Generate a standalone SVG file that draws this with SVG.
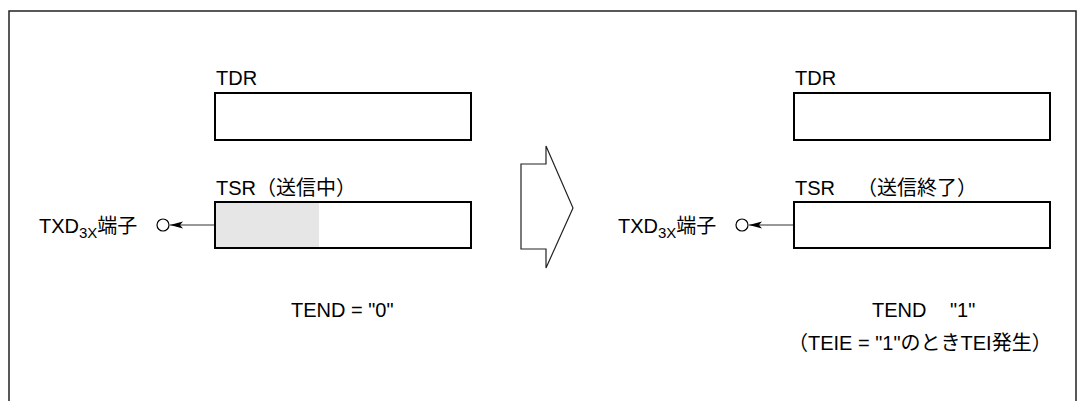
<svg xmlns="http://www.w3.org/2000/svg" width="1080" height="401" viewBox="0 0 1080 401">
<style>
text{font-family:"Liberation Sans","Noto Sans CJK JP",sans-serif;font-size:20px;fill:#000}
.sub{font-size:15px}
.reg{fill:none;stroke:#000;stroke-width:2}
.frame{fill:none;stroke:#222;stroke-width:1.5}
.conn{stroke:#333;stroke-width:1.2;fill:none}
.pin{fill:#fff;stroke:#000;stroke-width:1.2}
</style>
<defs>
<marker id="ah" markerWidth="14" markerHeight="8" refX="13" refY="4" orient="auto" markerUnits="userSpaceOnUse">
<path d="M0,0.5 L13,4 L0,7.5 L3,4 Z" fill="#000"/>
</marker>
</defs>
<rect class="frame" x="9" y="11" width="1067" height="420"/>

<g id="left-tdr">
<text x="216" y="85">TDR</text>
<rect class="reg" x="215" y="93" width="256" height="47"/>
</g>
<g id="left-tsr">
<text x="216" y="195">TSR（送信中）</text>
<rect x="215" y="202" width="104" height="46" fill="#e6e6e6"/>
<rect class="reg" x="215" y="202" width="256" height="46"/>
</g>
<g id="left-pin">
<text x="39" y="233">TXD<tspan class="sub" dy="5">3X</tspan><tspan dy="-5">端子</tspan></text>
<circle class="pin" cx="163" cy="225" r="6"/>
</g>
<g id="left-status">
<text x="291" y="317">TEND = "0"</text>
</g>

<g id="transition-arrow">
<path d="M521,164 L546,164 L546,146 L573,208 L546,268 L546,249 L521,249 Z" fill="#fff" stroke="#222" stroke-width="1.2"/>
</g>

<g id="right-tdr">
<text x="795" y="85">TDR</text>
<rect class="reg" x="794" y="93" width="256" height="47"/>
</g>
<g id="right-tsr">
<text x="795" y="195">TSR<tspan x="857">（送信終了）</tspan></text>
<rect class="reg" x="794" y="202" width="256" height="46"/>
</g>
<g id="right-pin">
<text x="618" y="233">TXD<tspan class="sub" dy="5">3X</tspan><tspan dy="-5">端子</tspan></text>
<circle class="pin" cx="742" cy="225" r="6"/>
</g>
<g id="right-status">
<text x="872" y="317">TEND<tspan x="950">"1"</tspan></text>
<text x="788" y="350">（TEIE = "1"のときTEI発生）</text>
</g>

<g id="connectors">
<line class="conn" x1="214" y1="225" x2="170" y2="225" marker-end="url(#ah)"/>
<line class="conn" x1="793" y1="225" x2="749" y2="225" marker-end="url(#ah)"/>
</g>
</svg>
